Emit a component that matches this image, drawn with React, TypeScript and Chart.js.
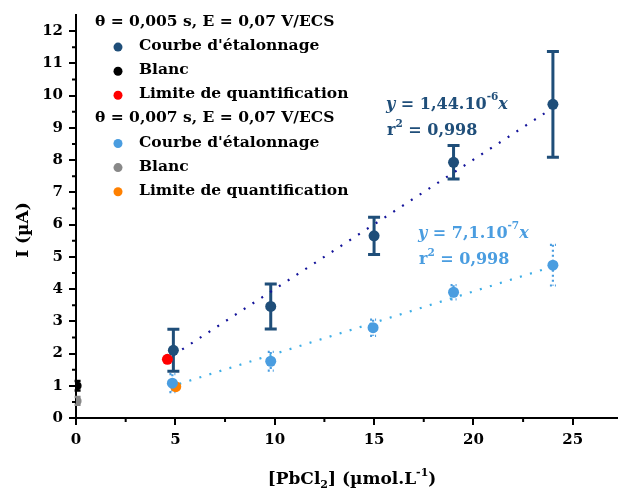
import React, { useEffect, useRef } from "react";
import { Chart, registerables } from "chart.js";
Chart.register(...registerables);

const xTickValues = [0, 5, 10, 15, 20, 25];
const yTickValues = [0, 1, 2, 3, 4, 5, 6, 7, 8, 9, 10, 11, 12];
const xMinorTicks = [2.5, 7.5, 12.5, 17.5, 22.5];
const yMinorTicks = [0.5, 1.5, 2.5, 3.5, 4.5, 5.5, 6.5, 7.5, 8.5, 9.5, 10.5, 11.5];

// θ = 0,005 s
const curveX1 = [4.9, 9.8, 15.0, 19.0, 24.0];
const curveY1 = [2.1, 3.46, 5.65, 7.93, 9.73];
const curveErr1 = [0.65, 0.7, 0.58, 0.52, 1.64];
const blankX1 = [0.08];
const blankY1 = [1.0];
const blankErr1 = [0.15];
const loqX1 = [4.6];
const loqY1 = [1.82];
const fitX1 = [4.9, 24.0];
const fitY1 = [1.95, 9.62];

// θ = 0,007 s
const curveX2 = [4.85, 9.8, 14.95, 19.0, 24.0];
const curveY2 = [1.08, 1.76, 2.8, 3.9, 4.74];
const curveErr2 = [0.28, 0.29, 0.25, 0.22, 0.63];
const blankX2 = [0.08];
const blankY2 = [0.53];
const blankErr2 = [0.12];
const loqX2 = [5.02];
const loqY2 = [0.97];
const fitX2 = [5.2, 24.0];
const fitY2 = [1.06, 4.7];

const DARK = "#1f4e79";
const LIGHT = "#4a9de0";
const NAVY = "#14149a";
const CYAN = "#3eaee6";
const FONT = '"DejaVu Serif", serif';

const pts = (xs: number[], ys: number[]) => xs.map((x, i) => ({ x, y: ys[i] }));

export default function App() {
  const ref = useRef<HTMLCanvasElement>(null);
  useEffect(() => {
    const canvas = ref.current!;
    const errSpecs: Record<number, any> = {
      0: { err: curveErr1, color: DARK, width: 3, cap: 6, dash: [] },
      1: { err: curveErr2, color: LIGHT, width: 2.2, cap: 3, dash: [2, 3] },
      2: { err: blankErr1, color: "#000", width: 2.5, cap: 3, dash: [] },
      3: { err: blankErr2, color: "#888", width: 2.5, cap: 3, dash: [] },
    };
    const errPlugin = {
      id: "errbars",
      beforeDatasetsDraw(chart: any) {
        const ctx = chart.ctx;
        const xs = chart.scales.x;
        const ys = chart.scales.y;
        Object.keys(errSpecs).forEach((k) => {
          const idx = Number(k);
          const spec = errSpecs[idx];
          const data = chart.data.datasets[idx].data as any[];
          data.forEach((p, i) => {
            const e = spec.err[i];
            const px = xs.getPixelForValue(p.x);
            const top = ys.getPixelForValue(p.y + e);
            const bot = ys.getPixelForValue(p.y - e);
            ctx.save();
            ctx.strokeStyle = spec.color;
            ctx.lineWidth = spec.width;
            ctx.setLineDash(spec.dash);
            ctx.beginPath();
            ctx.moveTo(px, top);
            ctx.lineTo(px, bot);
            ctx.moveTo(px - spec.cap, top);
            ctx.lineTo(px + spec.cap, top);
            ctx.moveTo(px - spec.cap, bot);
            ctx.lineTo(px + spec.cap, bot);
            ctx.stroke();
            ctx.restore();
          });
        });
      },
    };
    const decoPlugin = {
      id: "deco",
      afterDraw(chart: any) {
        const ctx = chart.ctx;
        const xs = chart.scales.x;
        const ys = chart.scales.y;
        const area = chart.chartArea;
        ctx.save();
        // minor ticks
        ctx.strokeStyle = "#000";
        ctx.lineWidth = 2;
        ctx.beginPath();
        xMinorTicks.forEach((v) => {
          const px = xs.getPixelForValue(v);
          ctx.moveTo(px, area.bottom);
          ctx.lineTo(px, area.bottom + 4);
        });
        yMinorTicks.forEach((v) => {
          const py = ys.getPixelForValue(v);
          ctx.moveTo(area.left, py);
          ctx.lineTo(area.left - 4, py);
        });
        ctx.stroke();

        // axis titles
        ctx.fillStyle = "#000";
        ctx.textBaseline = "alphabetic";
        const seg = (parts: [string, string, number][], x: number, y: number) => {
          let cx = x;
          parts.forEach(([t, f, dy]) => {
            ctx.font = f;
            ctx.fillText(t, cx, y + dy);
            cx += ctx.measureText(t).width;
          });
          return cx - x;
        };
        const measure = (parts: [string, string, number][]) => {
          let w = 0;
          parts.forEach(([t, f]) => {
            ctx.font = f;
            w += ctx.measureText(t).width;
          });
          return w;
        };
        const big = `bold 17px ${FONT}`;
        const small = `bold 11px ${FONT}`;
        const xTitle: [string, string, number][] = [
          ["[PbCl", big, 0],
          ["2", small, 4],
          ["] (µmol.L", big, 0],
          ["-1", small, -8],
          [")", big, 0],
        ];
        const xw = measure(xTitle);
        ctx.textAlign = "left";
        seg(xTitle, 352 - xw / 2, 484);

        ctx.save();
        ctx.translate(28, 230);
        ctx.rotate(-Math.PI / 2);
        ctx.font = big;
        ctx.textAlign = "center";
        ctx.fillText("I (µA)", 0, 0);
        ctx.restore();

        // legend
        const lf = `bold 15.5px ${FONT}`;
        const rows: [string, string | null][] = [
          ["θ = 0,005 s, E = 0,07 V/ECS", null],
          ["Courbe d'étalonnage", DARK],
          ["Blanc", "#000"],
          ["Limite de quantification", "#ff0000"],
          ["θ = 0,007 s, E = 0,07 V/ECS", null],
          ["Courbe d'étalonnage", LIGHT],
          ["Blanc", "#888888"],
          ["Limite de quantification", "#ff8000"],
        ];
        ctx.textAlign = "left";
        ctx.textBaseline = "middle";
        ctx.font = lf;
        rows.forEach(([t, c], i) => {
          const y = 22 + i * 24.1;
          if (c === null) {
            ctx.fillStyle = "#000";
            ctx.fillText(t, 95, y);
          } else {
            ctx.fillStyle = c;
            ctx.beginPath();
            ctx.arc(118, y + 1, 4.5, 0, Math.PI * 2);
            ctx.fill();
            ctx.fillStyle = "#000";
            ctx.fillText(t, 139, y);
          }
        });

        // equations
        const eq = (color: string, coef: string, exp: string, x: number, y: number) => {
          ctx.fillStyle = color;
          ctx.textBaseline = "alphabetic";
          const bf = `bold 16px ${FONT}`;
          const it = `italic bold 16px ${FONT}`;
          const sf = `bold 10.5px ${FONT}`;
          seg(
            [
              ["y", it, 0],
              [" = " + coef, bf, 0],
              [exp, sf, -9],
              ["x", it, 0],
            ],
            x,
            y
          );
          seg(
            [
              ["r", bf, 26],
              ["2", sf, 18],
              [" = 0,998", bf, 26],
            ],
            x + 1,
            y
          );
        };
        eq(DARK, "1,44.10", "-6", 386, 109);
        eq(LIGHT, "7,1.10", "-7", 418, 238);
        ctx.restore();
      },
    };

    const chart = new Chart(canvas, {
      type: "scatter",
      data: {
        datasets: [
          { data: pts(curveX1, curveY1), backgroundColor: DARK, borderColor: DARK, pointRadius: 5.5 },
          { data: pts(curveX2, curveY2), backgroundColor: LIGHT, borderColor: LIGHT, pointRadius: 5.5 },
          { data: pts(blankX1, blankY1), backgroundColor: "#000", borderColor: "#000", pointRadius: 4 },
          { data: pts(blankX2, blankY2), backgroundColor: "#888", borderColor: "#888", pointRadius: 4 },
          { data: pts(loqX1, loqY1), backgroundColor: "#ff0000", borderColor: "#ff0000", pointRadius: 5.5 },
          { data: pts(loqX2, loqY2), backgroundColor: "#ff8000", borderColor: "#ff8000", pointRadius: 5.5 },
          {
            data: pts(fitX1, fitY1),
            showLine: true,
            borderColor: NAVY,
            borderWidth: 2.2,
            borderDash: [2, 8.5],
            pointRadius: 0,
          },
          {
            data: pts(fitX2, fitY2),
            showLine: true,
            borderColor: CYAN,
            borderWidth: 2.2,
            borderDash: [2, 8.5],
            pointRadius: 0,
          },
        ],
      },
      options: {
        responsive: false,
        animation: false,
        events: [],
        layout: { padding: { top: 14, right: 0, left: 0, bottom: 0 } },
        plugins: { legend: { display: false }, tooltip: { enabled: false } },
        elements: { point: { borderWidth: 0 } },
        scales: {
          x: {
            type: "linear",
            min: 0,
            max: 27.2,
            afterBuildTicks: (s: any) => {
              s.ticks = xTickValues.map((v) => ({ value: v }));
            },
            afterFit: (s: any) => {
              s.height = 75;
            },
            grid: { drawOnChartArea: false, drawTicks: true, tickLength: 7, color: "#000", lineWidth: 2 },
            border: { color: "#000", width: 2 },
            ticks: { color: "#000", font: { family: FONT, size: 15, weight: "bold" }, padding: 6, maxRotation: 0 },
          },
          y: {
            type: "linear",
            min: 0,
            max: 12.5,
            afterBuildTicks: (s: any) => {
              s.ticks = yTickValues.map((v) => ({ value: v }));
            },
            afterFit: (s: any) => {
              s.width = 76;
            },
            grid: { drawOnChartArea: false, drawTicks: true, tickLength: 7, color: "#000", lineWidth: 2 },
            border: { color: "#000", width: 2 },
            ticks: { color: "#000", font: { family: FONT, size: 15, weight: "bold" }, padding: 6 },
          },
        },
      },
      plugins: [errPlugin, decoPlugin],
    } as any);
    return () => chart.destroy();
  }, []);
  return (
    <div style={{ position: "fixed", left: 0, top: 0, width: 622, height: 493, background: "#fff" }}>
      <canvas ref={ref} width={622} height={493} />
    </div>
  );
}
